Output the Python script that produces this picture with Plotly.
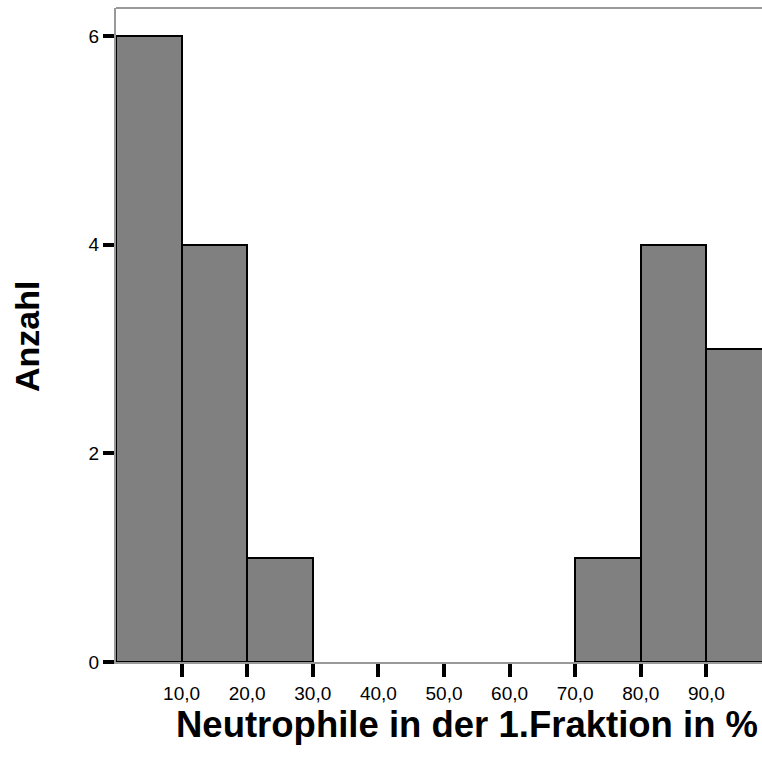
import plotly.graph_objects as go

bin_left = [0, 10, 20, 30, 40, 50, 60, 70, 80, 90]
counts = [6, 4, 1, 0, 0, 0, 0, 1, 4, 3]
bin_width = 10
x_tick_vals = [10, 20, 30, 40, 50, 60, 70, 80, 90]
x_tick_text = ["10,0", "20,0", "30,0", "40,0", "50,0", "60,0", "70,0", "80,0", "90,0"]
y_tick_vals = [0, 2, 4, 6]

xs = [l + bin_width / 2 for l, c in zip(bin_left, counts) if c > 0]
ys = [c for c in counts if c > 0]

fig = go.Figure()
fig.add_trace(go.Bar(
    x=xs, y=ys, width=bin_width,
    marker=dict(color="#808080", line=dict(color="black", width=2)),
    hoverinfo="x+y",
))

W, H = 762, 767
L, R, T, B = 116, 0, 8, 105

fig.update_layout(
    width=W, height=H,
    margin=dict(l=L, r=R, t=T, b=B, pad=0),
    paper_bgcolor="white", plot_bgcolor="white",
    showlegend=False,
    font=dict(family="Liberation Sans, Arial, sans-serif", color="black"),
    bargap=0,
    xaxis=dict(
        range=[0, 98.48], tickvals=x_tick_vals, ticktext=x_tick_text,
        ticks="outside", ticklen=13, tickwidth=4, tickcolor="black",
        showline=True, linecolor="#999999", linewidth=2,
        showgrid=False, zeroline=False,
        tickfont=dict(size=19, color="black"),
    ),
    yaxis=dict(
        range=[0, 6.268], tickvals=y_tick_vals,
        ticks="outside", ticklen=11, tickwidth=4, tickcolor="black",
        showline=True, linecolor="#999999", linewidth=2,
        showgrid=False, zeroline=False,
        tickfont=dict(size=19, color="black"),
    ),
    shapes=[dict(type="line", xref="paper", yref="paper", x0=0, x1=1, y0=1, y1=1,
                 line=dict(color="#999999", width=2))],
    annotations=[
        dict(text="<b>Neutrophile in der 1.Fraktion in %</b>", xref="paper", yref="paper",
             x=(467 - L) / (W - L - R), y=(662 - 724) / 654, xanchor="center", yanchor="middle",
             showarrow=False, font=dict(size=36.5, color="black")),
        dict(text="<b>Anzahl</b>", xref="paper", yref="paper",
             x=(27 - L) / (W - L - R), y=(662 - 337) / 654, xanchor="center", yanchor="middle",
             textangle=-90, showarrow=False, font=dict(size=34, color="black")),
    ],
)

fig.write_html("out.html", config={"displayModeBar": False})

with open("out.html", "r", encoding="utf-8") as f:
    html = f.read()
html = html.replace("<body>", '<body style="margin:0;padding:0;overflow:hidden">', 1)
with open("out.html", "w", encoding="utf-8") as f:
    f.write(html)
